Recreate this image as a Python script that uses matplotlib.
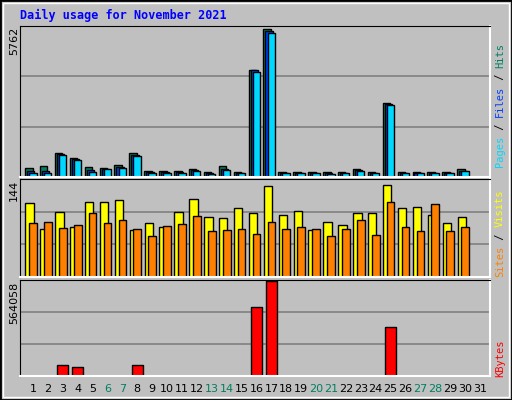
import numpy as np
import matplotlib
matplotlib.use('Agg')
import matplotlib.pyplot as plt
from matplotlib.patches import Rectangle

# ========== 資料 ==========
days = np.arange(1, 32)
px_scale = 5762 / 149.0
hits_px = [9, 11, 24, 19, 10, 9, 12, 24, 6, 6, 6, 8, 5, 11, 5, 106, 147,
           5, 5, 5, 5, 5, 8, 5, 73, 5, 5, 5, 5, 8, 0]
files_px = [6, 6, 23, 18, 7, 8, 10, 22, 5, 5, 5, 7, 4, 8, 4, 106, 145,
            4, 4, 4, 4, 4, 7, 4, 72, 4, 4, 4, 4, 6, 0]
pages_px = [4, 4, 22, 17, 5, 8, 9, 21, 4, 4, 4, 6, 3, 7, 4, 104, 143,
            4, 4, 4, 3, 4, 6, 4, 71, 4, 4, 4, 4, 6, 0]
hits = [round(v * px_scale) for v in hits_px]
files = [round(v * px_scale) for v in files_px]
pages = [round(v * px_scale) for v in pages_px]

visits = [111, 72, 97, 75, 112, 112, 115, 70, 81, 75, 97, 117, 90, 88, 103, 96,
          136, 93, 99, 70, 82, 78, 96, 96, 138, 103, 105, 93, 81, 90, 0]
sites = [81, 82, 73, 78, 96, 81, 85, 72, 61, 76, 79, 91, 69, 70, 72, 64,
         82, 72, 75, 72, 61, 72, 85, 63, 112, 75, 69, 109, 69, 75, 0]

kbytes = [0, 0, 66000, 54000, 0, 0, 0, 66000, 0, 0, 0, 0, 0, 0, 0, 408000,
          564058, 0, 0, 0, 0, 0, 0, 0, 290000, 0, 0, 0, 0, 0, 0]
weekend = [6, 7, 13, 14, 20, 21, 27, 28]

BG = '#C0C0C0'
W, H = 512, 400

fig = plt.figure(figsize=(W / 100, H / 100), dpi=100)
fig.patch.set_facecolor(BG)
# 外框
fig.patches.append(Rectangle((0, 0), 1, 1, transform=fig.transFigure, fill=False,
                             edgecolor='black', linewidth=2))
fig.patches.append(Rectangle((3 / W, 3 / H), 1 - 6 / W, 1 - 6 / H, transform=fig.transFigure,
                             fill=False, edgecolor='white', linewidth=1))


def add_panel(y_top, y_bot, ymax):
    ax = fig.add_axes([20 / W, 1 - y_bot / H, 470 / W, (y_bot - y_top) / H])
    ax.set_facecolor(BG)
    ax.set_xlim(0.13, 31.67)
    ax.set_ylim(0, ymax)
    ax.set_xticks([])
    ax.set_yticks([ymax / 3, ymax * 2 / 3])
    ax.tick_params(left=False, labelleft=False)
    ax.yaxis.grid(True, color='#808080', linewidth=1.2)
    ax.set_axisbelow(True)
    for s in ['left', 'top']:
        ax.spines[s].set_color('black')
    for s in ['right', 'bottom']:
        ax.spines[s].set_color('white')
        ax.spines[s].set_linewidth(1.5)
    return ax


ax1 = add_panel(26, 177, 5762 * 1.005)
kw = dict(edgecolor='black', linewidth=1)
ax1.bar(days - 0.28, hits, 0.5, color='#008060', **kw)
ax1.bar(days - 0.15, files, 0.5, color='#0040FF', **kw)
ax1.bar(days - 0.01, pages, 0.5, color='#00D8FF', **kw)

ax2 = add_panel(179, 277, 144 * 1.02)
ax2.bar(days - 0.23, visits, 0.56, color='#FFFF00', **kw)
ax2.bar(days, sites, 0.52, color='#FF8000', **kw)

ax3 = add_panel(280, 376, 564058 * 1.01)
ax3.bar(days[:30], kbytes[:30], 0.72, color='#FF0000', **kw)
# 零值日畫短黑線
zero_days = [d for d, v in zip(days[:30], kbytes[:30]) if v == 0]
ax3.bar(zero_days, [8000] * len(zero_days), 0.66, color='black', linewidth=0)

# 日期標籤
for d in days:
    fig.text((20 + (d - 0.13) * 470 / 31.54) / W, 1 - 389 / H, str(d), ha='center', va='center',
             fontsize=8, family='DejaVu Sans',
             color='#008060' if d in weekend else 'black')

# 左側最大值
for y, txt in [(27, '5762'), (180, '144'), (282, '564058')]:
    fig.text(14 / W, 1 - y / H, txt, rotation=90, ha='center', va='top', fontsize=8)

fig.text(20 / W, 1 - 15 / H, 'Daily usage for November 2021', color='#0000FF',
         family='DejaVu Sans Mono', fontweight='bold', fontsize=8.5, va='center')


def vlabel(y_bottom, parts):
    # 由下往上繪製彩色直書文字
    y = y_bottom
    for txt, col in parts:
        fig.text(500 / W, 1 - y / H, txt, rotation=90, ha='center', va='bottom',
                 color=col, family='DejaVu Sans Mono', fontsize=7.5)
        y -= len(txt) * 6.2


vlabel(167, [('Pages', '#00D8FF'), (' / ', 'black'), ('Files', '#0040FF'),
             (' / ', 'black'), ('Hits', '#008060')])
vlabel(277, [('Sites', '#FF8000'), (' / ', 'black'), ('Visits', '#FFFF00')])
vlabel(377, [('KBytes', '#FF0000')])

plt.savefig('out.png', dpi=100, facecolor=BG)
